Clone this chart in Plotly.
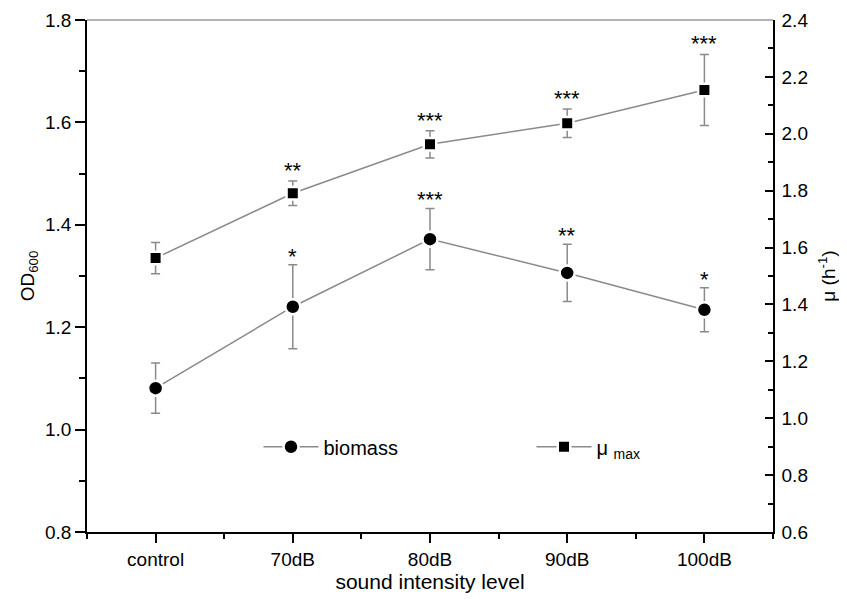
import plotly.graph_objects as go

categories = ["control", "70dB", "80dB", "90dB", "100dB"]
biomass = [1.081, 1.240, 1.372, 1.306, 1.234]
biomass_err = [0.049, 0.082, 0.060, 0.056, 0.043]
biomass_sig = ["", "*", "***", "**", "*"]
mu_max = [1.563, 1.791, 1.963, 2.037, 2.154]
mu_err = [0.055, 0.043, 0.048, 0.050, 0.125]
mu_sig = ["", "**", "***", "***", "***"]
left_ticks = [0.8, 1.0, 1.2, 1.4, 1.6, 1.8]
right_ticks = [0.6, 0.8, 1.0, 1.2, 1.4, 1.6, 1.8, 2.0, 2.2, 2.4]

xpos = list(range(len(categories)))
FONT = "Liberation Sans, Arial, sans-serif"
LINE_GRAY = "#8a8a8a"

fig = go.Figure()
fig.add_trace(go.Scatter(
    x=xpos, y=biomass, name="biomass", mode="lines+markers",
    line=dict(color=LINE_GRAY, width=1.5),
    marker=dict(symbol="circle", size=15, color="black", line=dict(color="white", width=2.5)),
    error_y=dict(type="data", array=biomass_err, visible=True, color=LINE_GRAY, thickness=1.5, width=4.5),
    yaxis="y",
))
fig.add_trace(go.Scatter(
    x=xpos, y=mu_max, name="μ <sub>max</sub>", mode="lines+markers",
    line=dict(color=LINE_GRAY, width=1.5),
    marker=dict(symbol="square", size=12.5, color="black", line=dict(color="white", width=2.5)),
    error_y=dict(type="data", array=mu_err, visible=True, color=LINE_GRAY, thickness=1.5, width=4.5),
    yaxis="y2",
))

annotations = []
for i, s in enumerate(biomass_sig):
    if s:
        annotations.append(dict(x=xpos[i], y=biomass[i] + biomass_err[i], xref="x", yref="y",
                                text=s, showarrow=False, yanchor="bottom", yshift=-6,
                                font=dict(family=FONT, size=22, color="black")))
for i, s in enumerate(mu_sig):
    if s:
        annotations.append(dict(x=xpos[i], y=mu_max[i] + mu_err[i], xref="x", yref="y2",
                                text=s, showarrow=False, yanchor="bottom", yshift=-4,
                                font=dict(family=FONT, size=22, color="black")))

# page body has an 8px default margin, so the figure is sized to fit the window
fig.update_layout(
    width=839, height=592,
    margin=dict(l=79, r=73.5, t=12, b=67.7, autoexpand=False),
    paper_bgcolor="white", plot_bgcolor="white",
    font=dict(family=FONT, size=19, color="black"),
    showlegend=True,
    legend=dict(orientation="h", x=0.25, y=0.1665, xanchor="left", yanchor="middle",
                font=dict(family=FONT, size=20, color="black"),
                bgcolor="rgba(0,0,0,0)", itemwidth=55, entrywidth=203, entrywidthmode="pixels"),
    xaxis=dict(
        range=[-0.5, 4.5], tickmode="array", tickvals=xpos, ticktext=categories,
        automargin=False,
        showline=True, linecolor="black", linewidth=1.5, mirror=False,
        ticks="outside", ticklen=9, tickwidth=1.5, tickcolor="black",
        minor=dict(tickmode="array", tickvals=[-0.5, 0.5, 1.5, 2.5, 3.5, 4.5], ticks="outside",
                   ticklen=5, tickwidth=1.5, tickcolor="black"),
        showgrid=False, zeroline=False,
        title=dict(text="sound intensity level", font=dict(size=21), standoff=6),
        tickfont=dict(size=19),
    ),
    yaxis=dict(
        range=[0.8, 1.8], tickmode="array", tickvals=left_ticks,
        ticktext=[f"{v:.1f}" for v in left_ticks],
        automargin=False,
        showline=True, linecolor="black", linewidth=1.5,
        ticks="outside", ticklen=10, tickwidth=1.5, tickcolor="black",
        minor=dict(dtick=0.1, tick0=0.8, ticks="outside", ticklen=6, tickwidth=1.5, tickcolor="black"),
        showgrid=False, zeroline=False,
        title=dict(text="OD<sub>600</sub>", font=dict(size=19), standoff=5),
        tickfont=dict(size=19),
    ),
    yaxis2=dict(
        range=[0.6, 2.4], tickmode="array", tickvals=right_ticks,
        ticktext=[f"{v:.1f}" for v in right_ticks],
        overlaying="y", side="right", automargin=False,
        showline=True, linecolor="black", linewidth=1.5,
        ticks="inside", ticklen=8, tickwidth=1.5, tickcolor="black",
        ticklabelstandoff=3,
        minor=dict(dtick=0.1, tick0=0.6, ticks="inside", ticklen=5, tickwidth=1.5, tickcolor="black"),
        showgrid=False, zeroline=False,
        title=dict(text="μ (h<sup>-1</sup>)", font=dict(size=19), standoff=14),
        tickfont=dict(size=19),
    ),
    annotations=annotations,
    shapes=[dict(type="line", xref="paper", yref="paper", x0=0, x1=1, y0=1, y1=1,
                 line=dict(color="#9a9a9a", width=1.5))],
)

fig.write_html("out.html")
